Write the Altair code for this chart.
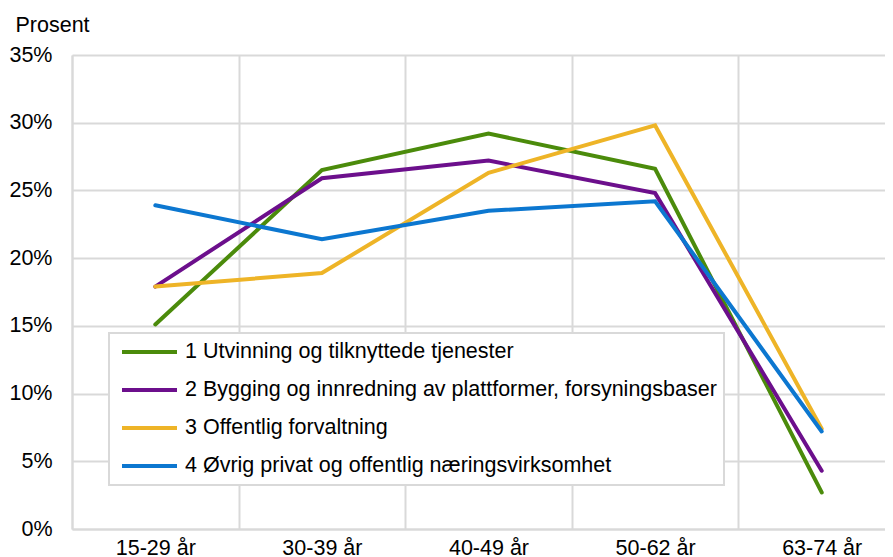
import altair as alt
import pandas as pd

categories = ["15-29 år", "30-39 år", "40-49 år", "50-62 år", "63-74 år"]
series_names = [
    "1 Utvinning og tilknyttede tjenester",
    "2 Bygging og innredning av plattformer, forsyningsbaser",
    "3 Offentlig forvaltning",
    "4 Øvrig privat og offentlig næringsvirksomhet",
]
s1 = [15.1, 26.5, 29.2, 26.6, 2.7]
s2 = [17.9, 25.9, 27.2, 24.8, 4.3]
s3 = [17.9, 18.9, 26.3, 29.8, 7.4]
s4 = [23.9, 21.4, 23.5, 24.2, 7.2]
colors = ["#4b8b0b", "#6c0f8c", "#eeb427", "#0c77d0"]
y_ticks = [0, 0.05, 0.10, 0.15, 0.20, 0.25, 0.30, 0.35]

rows = []
for name, vals in zip(series_names, [s1, s2, s3, s4]):
    for cat, v in zip(categories, vals):
        rows.append({"age": cat, "series": name, "value": v / 100})
df = pd.DataFrame(rows)

grid_col = "#d9d9d9"
font = "Liberation Sans"
fs = 21.5

chart = alt.Chart(df).mark_line(strokeWidth=4, strokeCap="round").encode(
    x=alt.X(
        "age:N",
        sort=categories,
        bandPosition=0.5,
        scale=alt.Scale(type="band", paddingInner=0, paddingOuter=0),
        axis=alt.Axis(
            title=None,
            tickBand="extent",
            grid=True,
            gridColor=grid_col,
            gridWidth=2,
            ticks=False,
            domainColor=grid_col,
            domainWidth=2,
            labelFontSize=fs,
            labelColor="#000000",
            labelPadding=8,
            labelAngle=0,
        ),
    ),
    y=alt.Y(
        "value:Q",
        scale=alt.Scale(domain=[0, 0.35], nice=False, zero=True),
        axis=alt.Axis(
            values=y_ticks,
            format=".0%",
            title="Prosent",
            titleAngle=0,
            titleAlign="left",
            titleBaseline="middle",
            titleX=-57,
            titleY=-30,
            titleFontSize=fs,
            titleFontWeight="normal",
            titleColor="#000000",
            grid=True,
            gridColor=grid_col,
            gridWidth=2,
            ticks=False,
            domainColor=grid_col,
            domainWidth=2,
            labelFontSize=fs,
            labelColor="#000000",
            labelPadding=20,
        ),
    ),
    color=alt.Color(
        "series:N",
        sort=series_names,
        scale=alt.Scale(domain=series_names, range=colors),
        legend=alt.Legend(
            title=None,
            orient="none",
            legendX=37,
            legendY=278,
            direction="vertical",
            symbolType="stroke",
            symbolSize=3025,
            symbolStrokeWidth=4,
            symbolOffset=4,
            clipHeight=24,
            labelFontSize=fs,
            labelColor="#000000",
            labelOffset=6,
            labelLimit=1000,
            padding=7,
            rowPadding=14,
            strokeColor=grid_col,
            fillColor="white",
        ),
    ),
).properties(
    width=833,
    height=474,
    autosize=alt.AutoSizeParams(type="none"),
    padding={"left": 64, "top": 47, "right": -20, "bottom": 28},
).configure(
    font=font,
).configure_view(
    stroke=None,
).configure_legend(
    strokeWidth=2,
)

chart.save("out.html", embed_options={"renderer": "svg", "actions": False})
